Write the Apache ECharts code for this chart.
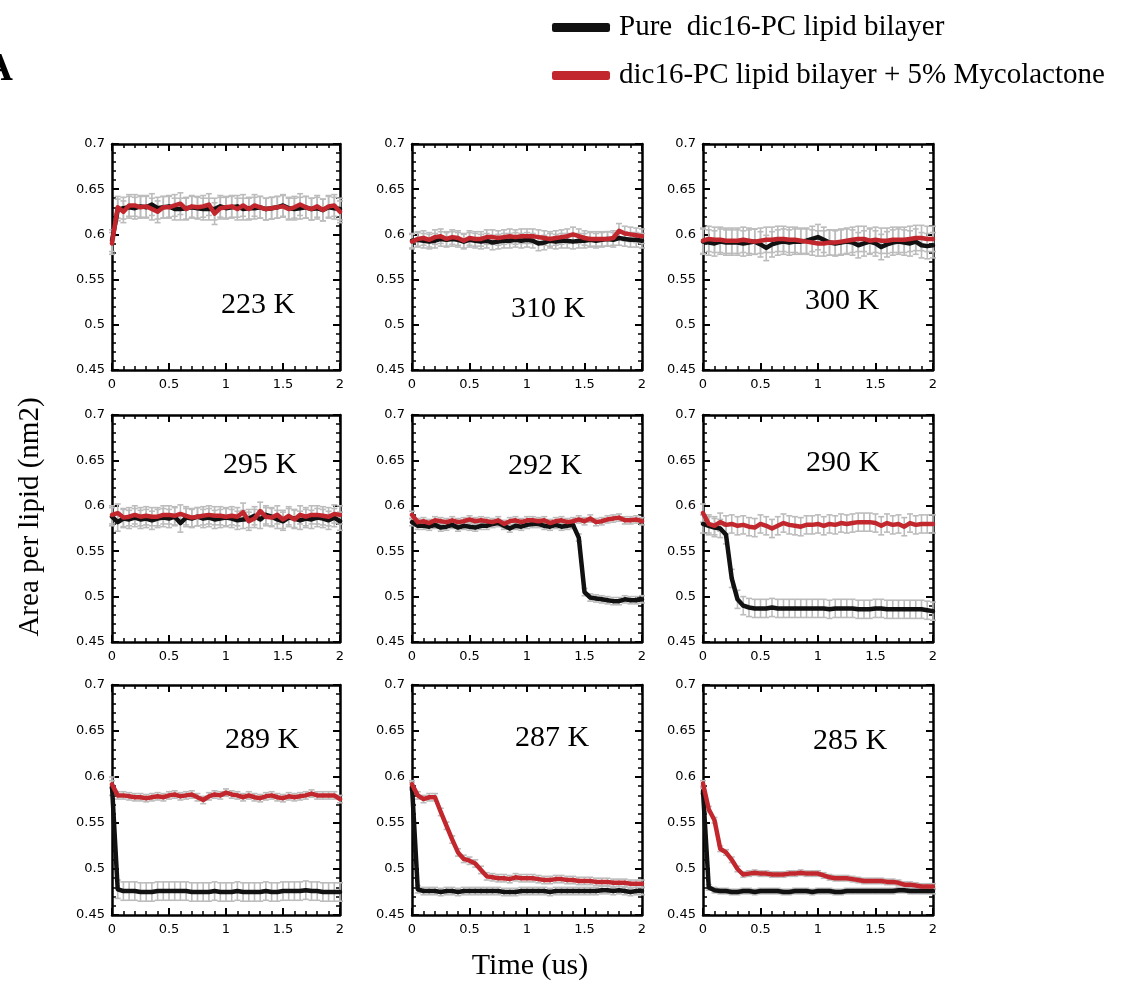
<!DOCTYPE html>
<html>
<head>
<meta charset="utf-8">
<script src="https://cdn.jsdelivr.net/npm/echarts@6/dist/echarts.min.js"></script>
<style>
html,body{margin:0;padding:0;background:#fff;}
#chart{width:1126px;height:985px;}
</style>
</head>
<body>
<div id="chart"></div>
<script>
// ---------- data ----------
const times = [0,0.05,0.1,0.15,0.2,0.25,0.3,0.35,0.4,0.45,0.5,0.55,0.6,0.65,0.7,0.75,0.8,0.85,0.9,0.95,1,1.05,1.1,1.15,1.2,1.25,1.3,1.35,1.4,1.45,1.5,1.55,1.6,1.65,1.7,1.75,1.8,1.85,1.9,1.95,2];

const panelLabels = ['223 K','310 K','300 K','295 K','292 K','290 K','289 K','287 K','285 K'];
const seriesNames = ['Pure  dic16-PC lipid bilayer','dic16-PC lipid bilayer + 5% Mycolactone'];
const xTicks = [0,0.5,1,1.5,2];
const yTicks = [0.45,0.5,0.55,0.6,0.65,0.7];

const black223 = [0.593,0.627,0.629,0.630,0.629,0.631,0.630,0.633,0.629,0.630,0.631,0.628,0.628,0.629,0.630,0.629,0.628,0.628,0.628,0.631,0.629,0.630,0.631,0.628,0.629,0.629,0.630,0.628,0.629,0.630,0.632,0.629,0.628,0.629,0.630,0.628,0.629,0.627,0.630,0.629,0.628];
const red223   = [0.590,0.630,0.625,0.632,0.632,0.630,0.631,0.628,0.625,0.630,0.630,0.632,0.634,0.628,0.631,0.630,0.631,0.633,0.623,0.629,0.630,0.631,0.628,0.632,0.628,0.632,0.630,0.628,0.629,0.630,0.631,0.628,0.630,0.633,0.630,0.628,0.631,0.627,0.631,0.632,0.625];

const black310 = [0.593,0.594,0.593,0.592,0.593,0.595,0.594,0.595,0.594,0.592,0.594,0.593,0.592,0.593,0.591,0.592,0.593,0.593,0.594,0.593,0.594,0.593,0.590,0.591,0.593,0.592,0.593,0.593,0.592,0.593,0.593,0.594,0.593,0.594,0.595,0.594,0.596,0.595,0.594,0.594,0.593];
const red310   = [0.592,0.595,0.596,0.594,0.597,0.598,0.595,0.597,0.596,0.593,0.596,0.595,0.595,0.597,0.597,0.596,0.597,0.598,0.597,0.598,0.598,0.598,0.597,0.596,0.595,0.596,0.597,0.598,0.600,0.598,0.596,0.595,0.595,0.595,0.595,0.596,0.604,0.601,0.600,0.599,0.598];

const black300 = [0.592,0.591,0.590,0.592,0.591,0.591,0.591,0.590,0.591,0.592,0.589,0.585,0.589,0.591,0.592,0.591,0.592,0.592,0.593,0.595,0.597,0.594,0.591,0.590,0.591,0.592,0.591,0.588,0.590,0.592,0.590,0.586,0.589,0.591,0.592,0.591,0.590,0.592,0.588,0.587,0.588];
const red300   = [0.593,0.595,0.594,0.594,0.593,0.593,0.593,0.594,0.593,0.592,0.593,0.594,0.594,0.595,0.595,0.594,0.594,0.593,0.592,0.591,0.590,0.590,0.591,0.591,0.592,0.593,0.594,0.595,0.595,0.593,0.594,0.593,0.593,0.594,0.594,0.594,0.595,0.596,0.596,0.595,0.595];

const black295 = [0.588,0.582,0.586,0.585,0.587,0.585,0.586,0.584,0.586,0.587,0.586,0.588,0.581,0.587,0.586,0.588,0.586,0.587,0.585,0.586,0.587,0.586,0.584,0.585,0.586,0.589,0.585,0.590,0.588,0.585,0.583,0.587,0.586,0.584,0.586,0.585,0.587,0.586,0.584,0.587,0.583];
const red295   = [0.590,0.592,0.587,0.588,0.590,0.588,0.589,0.588,0.588,0.590,0.590,0.589,0.591,0.589,0.587,0.588,0.589,0.590,0.589,0.589,0.588,0.589,0.588,0.593,0.583,0.586,0.594,0.588,0.587,0.590,0.585,0.589,0.585,0.590,0.588,0.590,0.590,0.589,0.588,0.591,0.590];

const black292 = [0.582,0.578,0.578,0.577,0.579,0.576,0.577,0.579,0.576,0.578,0.577,0.576,0.578,0.578,0.580,0.581,0.578,0.575,0.578,0.577,0.579,0.580,0.580,0.578,0.577,0.579,0.577,0.578,0.579,0.565,0.505,0.499,0.498,0.497,0.496,0.495,0.495,0.497,0.496,0.496,0.497];
const red292   = [0.590,0.582,0.583,0.581,0.584,0.583,0.582,0.584,0.582,0.583,0.585,0.583,0.584,0.583,0.582,0.584,0.580,0.583,0.584,0.582,0.584,0.584,0.583,0.584,0.581,0.583,0.584,0.582,0.583,0.585,0.583,0.586,0.582,0.583,0.585,0.586,0.587,0.584,0.584,0.585,0.583];

const black290 = [0.580,0.578,0.576,0.575,0.568,0.520,0.497,0.490,0.488,0.487,0.487,0.487,0.488,0.487,0.487,0.487,0.487,0.487,0.487,0.487,0.487,0.487,0.486,0.487,0.487,0.487,0.487,0.486,0.486,0.486,0.487,0.487,0.486,0.486,0.486,0.486,0.486,0.486,0.486,0.485,0.484];
const red290   = [0.592,0.580,0.578,0.582,0.579,0.580,0.578,0.579,0.577,0.576,0.580,0.578,0.575,0.578,0.581,0.579,0.578,0.577,0.579,0.579,0.580,0.578,0.580,0.579,0.581,0.580,0.581,0.582,0.582,0.582,0.581,0.578,0.581,0.579,0.580,0.577,0.581,0.579,0.580,0.580,0.580];

const black289 = [0.590,0.478,0.476,0.476,0.476,0.475,0.475,0.475,0.476,0.476,0.476,0.476,0.476,0.476,0.475,0.475,0.475,0.475,0.476,0.475,0.475,0.475,0.476,0.475,0.475,0.475,0.475,0.476,0.475,0.475,0.476,0.476,0.476,0.476,0.477,0.476,0.476,0.475,0.475,0.475,0.475];
const red289   = [0.592,0.580,0.580,0.579,0.578,0.578,0.577,0.578,0.579,0.578,0.580,0.581,0.579,0.580,0.581,0.578,0.575,0.579,0.581,0.580,0.583,0.581,0.580,0.578,0.580,0.578,0.577,0.579,0.580,0.578,0.577,0.579,0.578,0.579,0.580,0.582,0.580,0.580,0.580,0.580,0.576];

const black287 = [0.590,0.478,0.476,0.476,0.476,0.475,0.476,0.476,0.475,0.476,0.476,0.476,0.476,0.476,0.476,0.476,0.475,0.475,0.475,0.476,0.476,0.476,0.476,0.476,0.475,0.476,0.476,0.476,0.476,0.476,0.476,0.476,0.476,0.477,0.477,0.476,0.477,0.476,0.475,0.476,0.476];
const red287   = [0.592,0.580,0.576,0.578,0.578,0.562,0.547,0.532,0.518,0.511,0.509,0.506,0.499,0.492,0.491,0.490,0.490,0.489,0.491,0.490,0.490,0.490,0.489,0.488,0.488,0.489,0.489,0.488,0.488,0.487,0.487,0.487,0.486,0.486,0.486,0.485,0.485,0.485,0.484,0.484,0.484];

const black285 = [0.585,0.480,0.477,0.476,0.476,0.475,0.475,0.476,0.476,0.475,0.476,0.476,0.476,0.476,0.475,0.475,0.476,0.476,0.476,0.475,0.476,0.476,0.476,0.475,0.475,0.476,0.476,0.476,0.476,0.476,0.476,0.476,0.476,0.476,0.477,0.477,0.476,0.476,0.476,0.476,0.476];
const red285   = [0.593,0.565,0.553,0.522,0.518,0.510,0.500,0.494,0.495,0.496,0.495,0.495,0.494,0.494,0.494,0.495,0.495,0.496,0.495,0.495,0.495,0.493,0.491,0.490,0.490,0.490,0.489,0.488,0.487,0.487,0.487,0.487,0.486,0.486,0.485,0.483,0.483,0.482,0.481,0.481,0.481];

// error-bar half widths per panel (black, red)
const errBlack = [0.012,0.008,0.014,0.010,0.004,0.010,0.010,0.004,0.003];
const errRed   = [0.012,0.008,0.014,0.010,0.004,0.010,0.004,0.004,0.003];

const blackSets = [black223,black310,black300,black295,black292,black290,black289,black287,black285];
const redSets   = [red223,red310,red300,red295,red292,red290,red289,red287,red285];

// ---------- layout ----------
const colLeft = [112, 412, 703];
const colWidth = [228, 230, 230];
const rowTop = [144, 415, 685];
const rowHeight = [226, 227, 230];
const labelPos = [[258,305],[548,309],[842,301],[260,465],[545,466],[843,463],[262,740],[552,738],[850,741]];

const BLACK = '#111111', RED = '#c1272d', GRAY = '#bcbcbc';

const chart = echarts.init(document.getElementById('chart'), null, {renderer:'canvas'});

const grids = [], xAxes = [], yAxes = [], series = [];
const axisLine = {show:true, onZero:false, lineStyle:{color:'#000', width:2.5}};
const tickStyle = {inside:true, length:7, lineStyle:{color:'#000', width:2}};
const minorStyle = {show:true, splitNumber:5, length:4, lineStyle:{color:'#000', width:1.5}};
const labelFont = {fontFamily:'DejaVu Sans', fontSize:13, color:'#000'};

function errRender(params, api) {
  const x = api.value(0), y = api.value(1), e = api.value(2);
  const top = api.coord([x, y + e]);
  const bot = api.coord([x, y - e]);
  const hw = 3;
  const st = {stroke: GRAY, lineWidth: 1.6};
  return {type:'group', children:[
    {type:'line', shape:{x1:top[0], y1:top[1], x2:bot[0], y2:bot[1]}, style:st},
    {type:'line', shape:{x1:top[0]-hw, y1:top[1], x2:top[0]+hw, y2:top[1]}, style:st},
    {type:'line', shape:{x1:bot[0]-hw, y1:bot[1], x2:bot[0]+hw, y2:bot[1]}, style:st}
  ]};
}

for (let i = 0; i < 9; i++) {
  const r = Math.floor(i/3), c = i % 3;
  grids.push({left: colLeft[c], top: rowTop[r], width: colWidth[c], height: rowHeight[r], containLabel:false});
  const xb = {gridIndex:i, type:'value', min:0, max:2, interval:0.5, position:'bottom',
    axisLine, axisTick:tickStyle, minorTick:minorStyle, splitLine:{show:false}, minorSplitLine:{show:false},
    axisLabel:Object.assign({margin:8, formatter: v => String(+v.toFixed(2))}, labelFont)};
  const xt = Object.assign({}, xb, {position:'top', axisLabel:{show:false}});
  xAxes.push(xb, xt);
  const yl = {gridIndex:i, type:'value', min:0.45, max:0.7, interval:0.05, position:'left',
    axisLine, axisTick:tickStyle, minorTick:minorStyle, splitLine:{show:false}, minorSplitLine:{show:false},
    axisLabel:Object.assign({margin:7, formatter: v => String(+v.toFixed(2))}, labelFont)};
  const yr = Object.assign({}, yl, {position:'right', axisLabel:{show:false}});
  yAxes.push(yl, yr);

  const bl = blackSets[i], rd = redSets[i];
  series.push({
    type:'custom', name:'errB'+i, xAxisIndex:2*i, yAxisIndex:2*i, renderItem: errRender, silent:true, z:1,
    data: times.map((t,k) => [t, bl[k], errBlack[i]])
  });
  series.push({
    type:'custom', name:'errR'+i, xAxisIndex:2*i, yAxisIndex:2*i, renderItem: errRender, silent:true, z:1,
    data: times.map((t,k) => [t, rd[k], errRed[i]])
  });
  series.push({
    type:'line', name:seriesNames[0], xAxisIndex:2*i, yAxisIndex:2*i, showSymbol:false, symbol:'none',
    lineStyle:{color:BLACK, width:4.5, join:'round', cap:'round'}, itemStyle:{color:BLACK}, z:3,
    data: times.map((t,k) => [t, bl[k]]), animation:false
  });
  series.push({
    type:'line', name:seriesNames[1], xAxisIndex:2*i, yAxisIndex:2*i, showSymbol:false, symbol:'none',
    lineStyle:{color:RED, width:4.5, join:'round', cap:'round'}, itemStyle:{color:RED}, z:4,
    data: times.map((t,k) => [t, rd[k]]), animation:false
  });
}

const graphics = [];
for (let i = 0; i < 9; i++) {
  graphics.push({type:'text', x:labelPos[i][0], y:labelPos[i][1],
    style:{text:panelLabels[i], font:'30px "Liberation Serif"', fill:'#000', textAlign:'center', textVerticalAlign:'middle'}});
}
graphics.push({type:'text', x:30, y:517, rotation:Math.PI/2,
  style:{text:'Area per lipid (nm2)', font:'29px "Liberation Serif"', fill:'#000', textAlign:'center', textVerticalAlign:'middle'}});
graphics.push({type:'text', x:530, y:966,
  style:{text:'Time (us)', font:'30px "Liberation Serif"', fill:'#000', textAlign:'center', textVerticalAlign:'middle'}});
graphics.push({type:'text', x:-16, y:70,
  style:{text:'A', font:'bold 40px "Liberation Serif"', fill:'#000', textAlign:'left', textVerticalAlign:'middle'}});

chart.setOption({
  animation:false,
  backgroundColor:'#fff',
  grid: grids,
  xAxis: xAxes,
  yAxis: yAxes,
  legend: {
    data: seriesNames, orient:'vertical', left:547, top:8, itemGap:19,
    icon:'roundRect', itemWidth:58, itemHeight:9,
    textStyle:{fontFamily:'Liberation Serif', fontSize:29, color:'#000', padding:[0,0,0,4]},
    selectedMode:false
  },
  graphic: graphics,
  series
});
</script>
</body>
</html>
